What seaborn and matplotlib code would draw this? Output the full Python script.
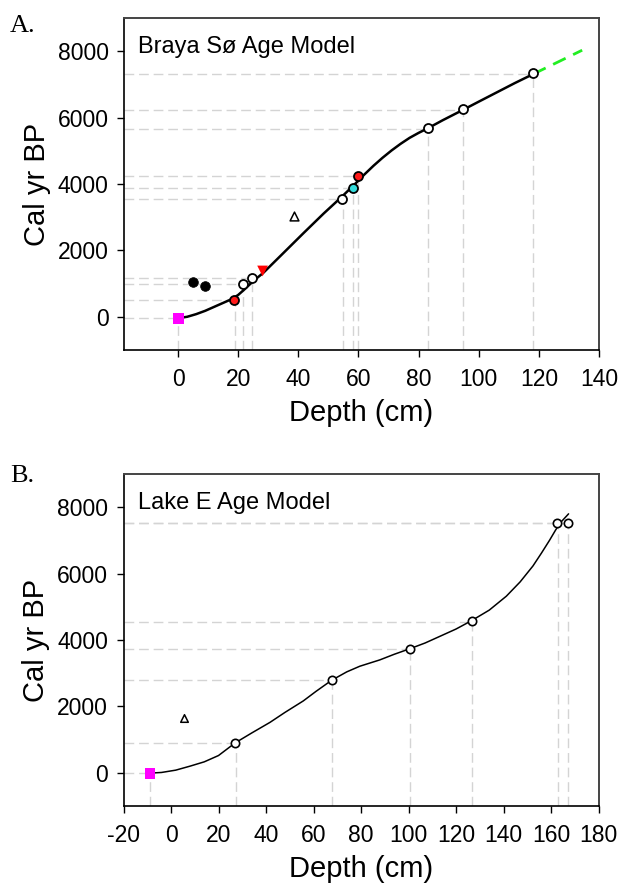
import matplotlib
matplotlib.use("Agg")
import matplotlib.pyplot as plt
import seaborn as sns
import numpy as np
import pandas as pd

# ---------------- Data: Panel A (Braya Sø) ----------------
A_curve_depth = [0.0, 3.0, 6.0, 9.0, 12.0, 15.0, 18.0, 20.0, 22.0, 24.0, 26.0, 28.4,
                 34.0, 41.7, 48.4, 54.5, 59.5, 62.0, 65.0, 68.0, 71.0, 74.0, 77.0,
                 80.0, 83.1, 88.0, 94.7, 100.0, 106.0, 112.0, 118.1]
A_curve_age = [-40, 0, 80, 180, 300, 420, 540, 660, 820, 990, 1150, 1330,
               1830, 2520, 3110, 3620, 4060, 4290, 4550, 4790, 5010, 5210, 5390,
               5540, 5680, 5920, 6230, 6480, 6760, 7040, 7310]
A_extrap_depth = [118.1, 134.4]
A_extrap_age = [7310, 8030]

A_open_depth = [21.6, 24.6, 54.6, 83.1, 94.6, 117.9]
A_open_age = [980, 1180, 3550, 5680, 6250, 7330]
A_red_depth = [18.7, 59.9]
A_red_age = [510, 4230]
A_cyan_depth = [58.1]
A_cyan_age = [3880]
A_redtri_depth = [28.1]
A_redtri_age = [1380]
A_black_depth = [5.0, 9.1]
A_black_age = [1050, 921]
A_opentri_depth = [38.6]
A_opentri_age = [3030]
A_top_depth = [0.0]
A_top_age = [-40]

A_ref_depth = [0.0, 18.8, 21.7, 24.7, 54.7, 58.1, 60.0, 83.2, 94.7, 118.0]
A_ref_age = [-40, 510, 980, 1180, 3550, 3880, 4230, 5670, 6240, 7320]

# ---------------- Data: Panel B (Lake E) ----------------
B_curve_depth = [-8.8, -4.0, 2.0, 8.0, 14.0, 20.0, 27.0, 34.0, 41.7, 48.0, 55.7,
                 61.0, 67.6, 74.0, 79.5, 87.9, 94.0, 100.7, 107.0, 113.2, 120.0,
                 126.5, 134.0, 141.2, 147.0, 152.4, 156.0, 159.4, 162.0, 164.3, 167.4]
B_curve_age = [-10, 10, 80, 200, 330, 520, 900, 1200, 1520, 1820, 2165,
               2450, 2785, 3040, 3210, 3400, 3570, 3740, 3910, 4110, 4330,
               4580, 4900, 5320, 5750, 6230, 6620, 7005, 7320, 7560, 7800]
B_open_depth = [27.0, 67.6, 100.7, 126.6, 162.4, 167.1]
B_open_age = [910, 2785, 3740, 4570, 7525, 7525]
B_opentri_depth = [5.3]
B_opentri_age = [1655]
B_top_depth = [-8.8]
B_top_age = [-10]

B_ref_depth = [-8.8, 27.2, 67.6, 100.8, 126.8, 162.8, 167.1]
B_ref_age = [-10, 890, 2785, 3735, 4540, 7525, 7525]

A_xticks = [0, 20, 40, 60, 80, 100, 120, 140]
B_xticks = [-20, 0, 20, 40, 60, 80, 100, 120, 140, 160, 180]
yticks = [0, 2000, 4000, 6000, 8000]

# ---------------- Style ----------------
sns.set_style("white")
plt.rcParams["font.family"] = ["Liberation Sans", "DejaVu Sans"]
plt.rcParams["axes.unicode_minus"] = False
for k in ["text.color", "axes.labelcolor", "xtick.color", "ytick.color"]:
    plt.rcParams[k] = "black"

fig = plt.figure(figsize=(6.21, 8.92), dpi=100)
axA = fig.add_axes([124 / 621, 1 - 350 / 892, 475 / 621, 332 / 892])
axB = fig.add_axes([123.5 / 621, 1 - 806 / 892, 475 / 621, 332 / 892])

ref_color = "#d4d4d4"
ref_ls = (0, (7, 3.5))


def style_axes(ax, xlim, xticks, title):
    ax.set_xlim(*xlim)
    ax.set_ylim(-1000, 9000)
    ax.set_xticks(xticks)
    ax.set_yticks(yticks)
    ax.tick_params(axis="both", direction="out", length=5, width=1,
                   color="black", labelcolor="black", labelsize=16.5,
                   bottom=True, left=True)
    ax.tick_params(axis="x", pad=8)
    ax.tick_params(axis="y", pad=6)
    for s in ["left", "bottom"]:
        ax.spines[s].set_color("black")
        ax.spines[s].set_linewidth(1.2)
    for s in ["top", "right"]:
        ax.spines[s].set_color("#444444")
        ax.spines[s].set_linewidth(1.4)
    ax.set_xlabel("Depth (cm)", fontsize=21, labelpad=6, color="black")
    ax.set_ylabel("Cal yr BP", fontsize=21, labelpad=5, color="black")
    ax.text(0.03, 0.895, title, transform=ax.transAxes, fontsize=17,
            ha="left", va="baseline", color="black")


def ref_lines(ax, depth, age, xleft):
    ax.hlines(age, xleft, depth, colors=ref_color, linestyles=[ref_ls],
              linewidth=1, zorder=1)
    ax.vlines(depth, -1000, age, colors=ref_color, linestyles=[ref_ls],
              linewidth=1, zorder=1)


# ---------------- Panel A ----------------
style_axes(axA, (-18, 140), A_xticks, "Braya Sø Age Model")
ref_lines(axA, A_ref_depth, A_ref_age, -18)
sns.lineplot(x=A_curve_depth, y=A_curve_age, ax=axA, color="black", lw=1.8,
             sort=False, estimator=None, zorder=3)
sns.lineplot(x=A_extrap_depth, y=A_extrap_age, ax=axA, color="#22ee22", lw=2,
             sort=False, estimator=None, zorder=3, dashes=False)
axA.lines[-1].set_linestyle((0, (5, 3)))

sns.scatterplot(x=A_redtri_depth, y=A_redtri_age, ax=axA, marker="v", s=60,
                color="#ff0000", edgecolor="none", zorder=4)
sns.scatterplot(x=A_black_depth, y=A_black_age, ax=axA, marker="o", s=48,
                color="black", edgecolor="black", zorder=4)
sns.scatterplot(x=A_opentri_depth, y=A_opentri_age, ax=axA, marker="^", s=40,
                facecolor="white", edgecolor="black", linewidth=1.1, zorder=4)
sns.scatterplot(x=A_open_depth, y=A_open_age, ax=axA, marker="o", s=42,
                facecolor="white", edgecolor="black", linewidth=1.3, zorder=5)
sns.scatterplot(x=A_red_depth, y=A_red_age, ax=axA, marker="o", s=42,
                facecolor="#ff1a1a", edgecolor="black", linewidth=1.3, zorder=5)
sns.scatterplot(x=A_cyan_depth, y=A_cyan_age, ax=axA, marker="o", s=42,
                facecolor="#33dddd", edgecolor="black", linewidth=1.3, zorder=5)
sns.scatterplot(x=A_top_depth, y=A_top_age, ax=axA, marker="s", s=65,
                color="#ff00ff", edgecolor="none", zorder=5)

# ---------------- Panel B ----------------
style_axes(axB, (-20, 180), B_xticks, "Lake E Age Model")
ref_lines(axB, B_ref_depth, B_ref_age, -20)
sns.lineplot(x=B_curve_depth, y=B_curve_age, ax=axB, color="black", lw=1.1,
             sort=False, estimator=None, zorder=3)
sns.scatterplot(x=B_opentri_depth, y=B_opentri_age, ax=axB, marker="^", s=30,
                facecolor="white", edgecolor="black", linewidth=1.1, zorder=4)
sns.scatterplot(x=B_open_depth, y=B_open_age, ax=axB, marker="o", s=36,
                facecolor="white", edgecolor="black", linewidth=1.2, zorder=5)
sns.scatterplot(x=B_top_depth, y=B_top_age, ax=axB, marker="s", s=60,
                color="#ff00ff", edgecolor="none", zorder=5)

for ax in (axA, axB):
    leg = ax.get_legend()
    if leg is not None:
        leg.remove()

fig.text(10 / 621, 1 - 32 / 892, "A.", fontsize=19,
         family=["Liberation Serif", "DejaVu Serif"], ha="left", va="baseline")
fig.text(10 / 621, 1 - 482 / 892, "B.", fontsize=19,
         family=["Liberation Serif", "DejaVu Serif"], ha="left", va="baseline")

fig.savefig("out.png", dpi=100)
